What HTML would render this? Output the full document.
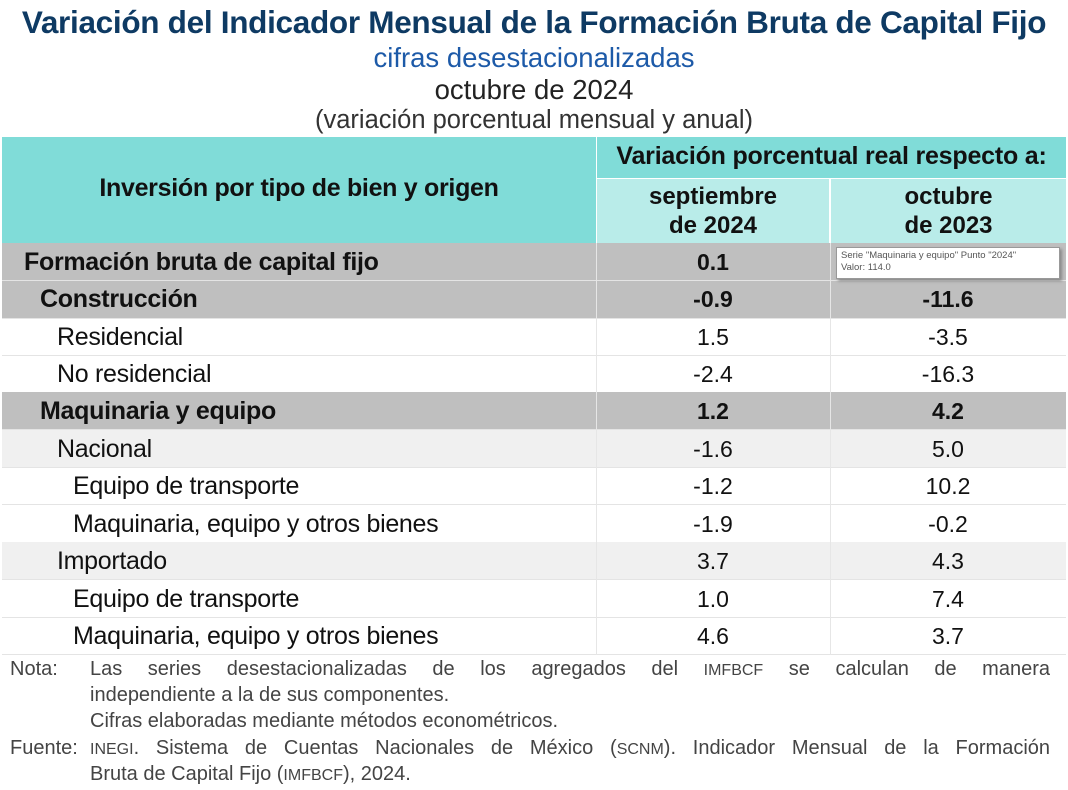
<!DOCTYPE html>
<html><head><meta charset="utf-8"><style>
body{margin:0;width:1068px;height:790px;background:#fff;position:relative;overflow:hidden;font-family:"Liberation Sans",sans-serif;color:#111}
div{position:absolute;box-sizing:border-box}
.c{text-align:center;white-space:nowrap}
.t{white-space:nowrap;font-size:25px;letter-spacing:-0.3px;line-height:37px}
.b{font-weight:bold}
.v1{left:596px;width:234px;text-align:center;font-size:23px;line-height:37px}
.v2{left:830px;width:236px;text-align:center;font-size:23px;line-height:37px}
.row{left:2px;width:1064px;height:37.5px;border-bottom:1px solid #e4e4e4}
.n{font-size:20px;color:#444;letter-spacing:0px;line-height:26px}
</style></head><body>
<div class="c b" style="left:0;width:1068px;top:4px;font-size:31.5px;color:#0e3a63;letter-spacing:-0.3px">Variación del Indicador Mensual de la Formación Bruta de Capital Fijo</div>
<div class="c" style="left:0;width:1068px;top:42px;font-size:27.5px;color:#1d5aa8">cifras desestacionalizadas</div>
<div class="c" style="left:0;width:1068px;top:74px;font-size:27.5px;color:#222">octubre de 2024</div>
<div class="c" style="left:0;width:1068px;top:106px;font-size:25.5px;color:#333">(variación porcentual mensual y anual)</div>

<div style="left:2px;top:137px;width:594px;height:106px;background:#80dcd8"></div>
<div style="left:597px;top:137px;width:469px;height:41px;background:#80dcd8"></div>
<div style="left:597px;top:179px;width:232px;height:64px;background:#b9ece9"></div>
<div style="left:831px;top:179px;width:235px;height:64px;background:#b9ece9"></div>
<div class="c b" style="left:2px;width:594px;top:174px;font-size:25px;letter-spacing:-0.3px">Inversión por tipo de bien y origen</div>
<div class="c b" style="left:597px;width:469px;top:142px;font-size:25px;letter-spacing:-0.2px">Variación porcentual real respecto a:</div>
<div class="c b" style="left:597px;width:232px;top:182px;font-size:24px;line-height:29px">septiembre<br>de 2024</div>
<div class="c b" style="left:831px;width:235px;top:182px;font-size:24px;line-height:29px">octubre<br>de 2023</div>

<div class="row" style="top:243px;background:#bfbfbf"></div>
<div class="row" style="top:281px;background:#bfbfbf"></div>
<div class="row" style="top:318px"></div>
<div class="row" style="top:355px"></div>
<div class="row" style="top:392px;background:#bfbfbf"></div>
<div class="row" style="top:430px;background:#f0f0f0"></div>
<div class="row" style="top:467px"></div>
<div class="row" style="top:505px"></div>
<div class="row" style="top:542px;background:#f0f0f0"></div>
<div class="row" style="top:580px"></div>
<div class="row" style="top:617px;height:38px"></div>
<div style="left:596px;top:243px;width:1px;height:412px;background:#e6e6e6"></div>
<div style="left:830px;top:243px;width:1px;height:412px;background:#e6e6e6"></div>

<div class="t b" style="left:24px;top:244px">Formación bruta de capital fijo</div><div class="v1 b" style="top:244px">0.1</div>
<div class="t b" style="left:40px;top:281px">Construcción</div><div class="v1 b" style="top:281px">-0.9</div><div class="v2 b" style="top:281px">-11.6</div>
<div class="t" style="left:57px;top:319px">Residencial</div><div class="v1" style="top:319px">1.5</div><div class="v2" style="top:319px">-3.5</div>
<div class="t" style="left:57px;top:356px">No residencial</div><div class="v1" style="top:356px">-2.4</div><div class="v2" style="top:356px">-16.3</div>
<div class="t b" style="left:40px;top:393px">Maquinaria y equipo</div><div class="v1 b" style="top:393px">1.2</div><div class="v2 b" style="top:393px">4.2</div>
<div class="t" style="left:57px;top:431px">Nacional</div><div class="v1" style="top:431px">-1.6</div><div class="v2" style="top:431px">5.0</div>
<div class="t" style="left:73px;top:468px">Equipo de transporte</div><div class="v1" style="top:468px">-1.2</div><div class="v2" style="top:468px">10.2</div>
<div class="t" style="left:73px;top:506px">Maquinaria, equipo y otros bienes</div><div class="v1" style="top:506px">-1.9</div><div class="v2" style="top:506px">-0.2</div>
<div class="t" style="left:57px;top:543px">Importado</div><div class="v1" style="top:543px">3.7</div><div class="v2" style="top:543px">4.3</div>
<div class="t" style="left:73px;top:581px">Equipo de transporte</div><div class="v1" style="top:581px">1.0</div><div class="v2" style="top:581px">7.4</div>
<div class="t" style="left:73px;top:618px">Maquinaria, equipo y otros bienes</div><div class="v1" style="top:618px">4.6</div><div class="v2" style="top:618px">3.7</div>

<div style="left:836px;top:247px;width:224px;height:32px;background:#fff;border:1px solid #999;box-shadow:2px 2px 3px #888;font-size:9.5px;line-height:12px;padding:2px 4px;color:#555;white-space:nowrap">Serie "Maquinaria y equipo" Punto "2024"<br>Valor: 114.0</div>

<div class="n" style="left:10px;top:656px">Nota:</div>
<div class="n" style="left:90px;top:656px;width:960px;text-align:justify;text-align-last:justify">Las series desestacionalizadas de los agregados del <span style="font-size:16px">IMFBCF</span> se calculan de manera</div>
<div class="n" style="left:90px;top:682px;white-space:nowrap">independiente a la de sus componentes.</div>
<div class="n" style="left:90px;top:708px;white-space:nowrap">Cifras elaboradas mediante métodos econométricos.</div>
<div class="n" style="left:10px;top:735px">Fuente:</div>
<div class="n" style="left:90px;top:735px;width:960px;text-align:justify;text-align-last:justify"><span style="font-size:16px">INEGI</span>. Sistema de Cuentas Nacionales de México (<span style="font-size:16px">SCNM</span>). Indicador Mensual de la Formación</div>
<div class="n" style="left:90px;top:761px;white-space:nowrap">Bruta de Capital Fijo (<span style="font-size:16px">IMFBCF</span>), 2024.</div>
</body></html>
